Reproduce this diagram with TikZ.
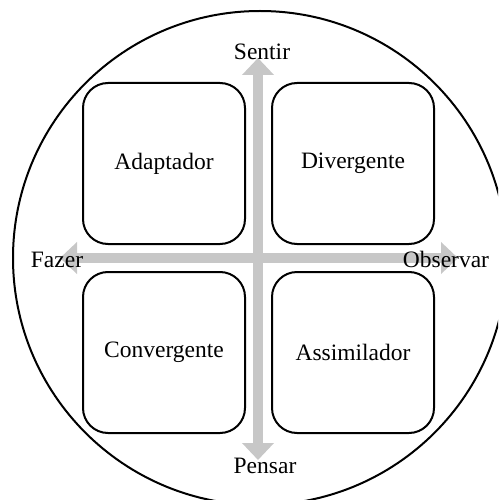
\documentclass[tikz,border=0pt]{standalone}
\usepackage{fontspec}
\setmainfont{Liberation Serif}
\usetikzlibrary{arrows.meta}
\tikzset{
  quad/.style={draw=black, line width=2pt, rounded corners=25pt, minimum width=162pt, minimum height=161pt, inner sep=0pt, font=\fontsize{23.5}{28}\selectfont},
  axislabel/.style={anchor=base, inner sep=0pt, font=\fontsize{23.5}{28}\selectfont},
  axis/.style={draw=black!22, line width=10pt, {Triangle[width=31pt,length=17pt]}-{Triangle[width=31pt,length=17pt]}}
}
\begin{document}
\begin{tikzpicture}[x=1pt,y=-1pt]
\useasboundingbox (0,0) rectangle (498,500);
\clip (0,0) rectangle (498,500);
\draw[line width=2pt] (260,258) circle[radius=247];
\coordinate (top) at (258,58);
\coordinate (bot) at (258,460);
\coordinate (lft) at (60,258);
\coordinate (rgt) at (458,258);
\draw[axis] (bot) -- (top);
\draw[axis] (lft) -- (rgt);
\node[quad] (adap) at (164,163.5) {Adaptador};
\node[quad] (div) at (353,163.5) {Divergente};
\node[quad] (conv) at (164,352.5) {Convergente};
\node[quad] (assim) at (353,352.5) {Assimilador};
\node[axislabel] (sentir) at (262,60) {Sentir};
\node[axislabel] (pensar) at (265,473) {Pensar};
\node[axislabel] (fazer) at (57,267) {Fazer};
\node[axislabel] (obs) at (446,267) {Observar};
\end{tikzpicture}
\end{document}
